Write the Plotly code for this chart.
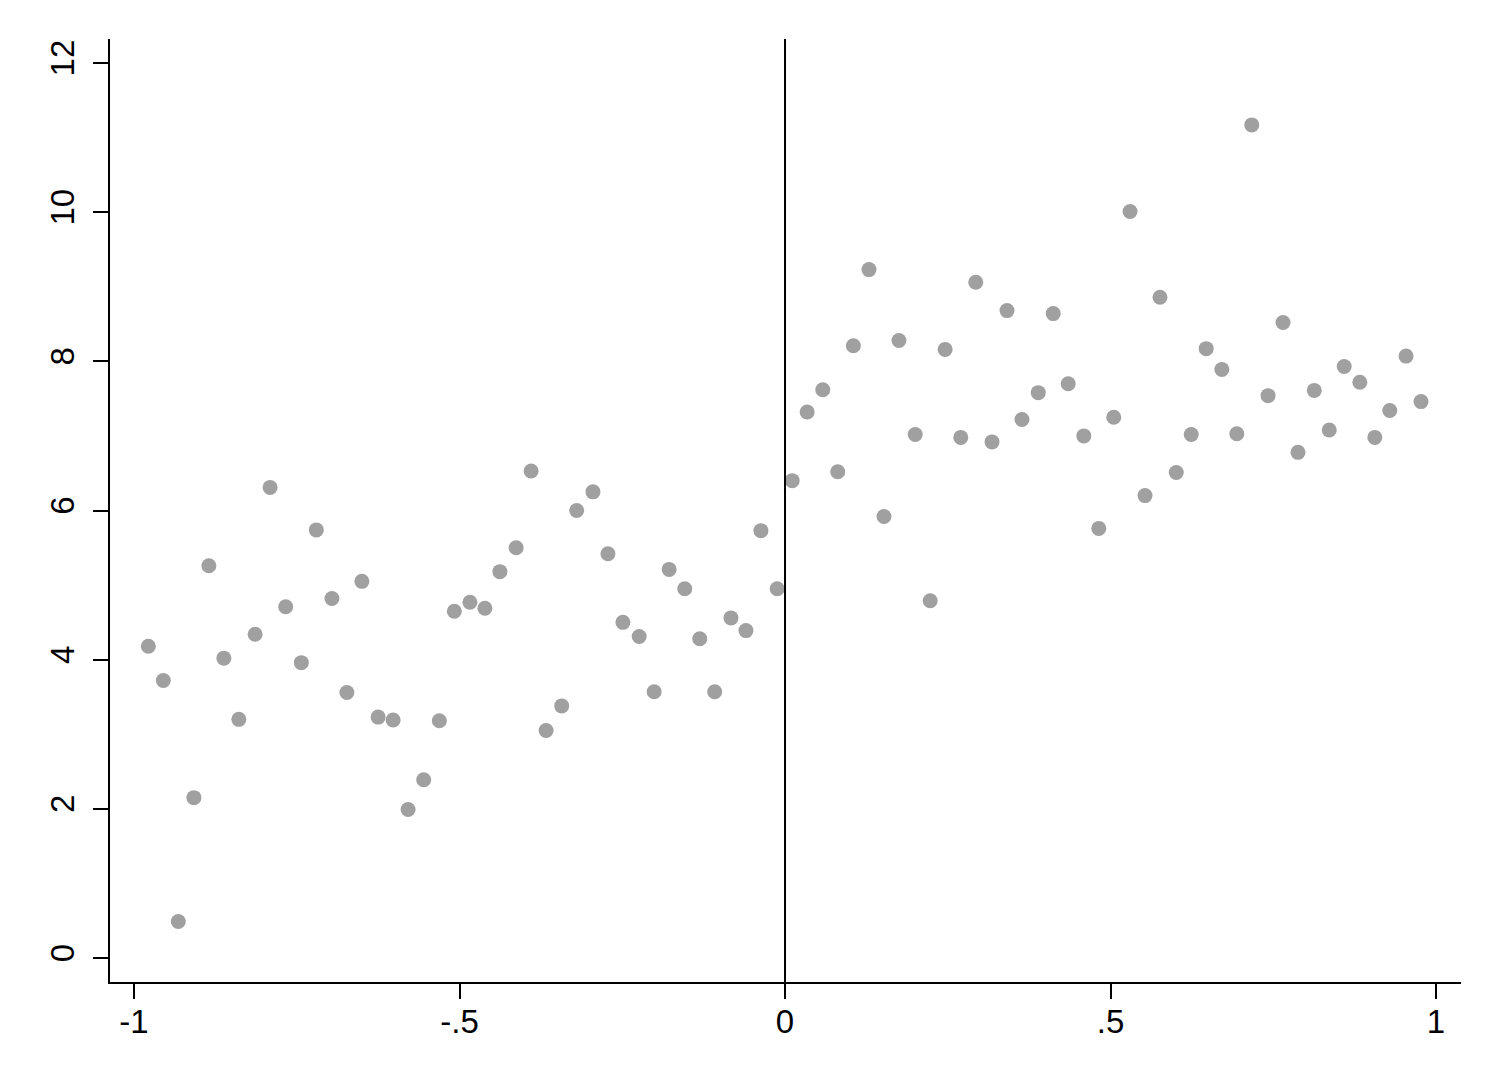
import plotly.graph_objects as go

# Bin midpoints (running variable) and bin means (outcome)
x_left = [-0.978, -0.955, -0.932, -0.908, -0.885, -0.862, -0.839, -0.814, -0.791,
          -0.767, -0.743, -0.720, -0.696, -0.673, -0.650, -0.625, -0.602, -0.579,
          -0.555, -0.531, -0.508, -0.484, -0.461, -0.438, -0.413, -0.390, -0.367,
          -0.343, -0.320, -0.295, -0.272, -0.249, -0.224, -0.201, -0.178, -0.154,
          -0.131, -0.108, -0.083, -0.060, -0.037, -0.012]
y_left = [4.18, 3.72, 0.49, 2.15, 5.26, 4.02, 3.20, 4.34, 6.31,
          4.71, 3.96, 5.74, 4.82, 3.56, 5.05, 3.23, 3.19, 1.99,
          2.39, 3.18, 4.65, 4.77, 4.69, 5.18, 5.50, 6.53, 3.05,
          3.38, 6.00, 6.25, 5.42, 4.50, 4.31, 3.57, 5.21, 4.95,
          4.28, 3.57, 4.56, 4.39, 5.73, 4.95]

x_right = [0.011, 0.034, 0.058, 0.081, 0.105, 0.129, 0.152, 0.175, 0.200,
           0.223, 0.246, 0.270, 0.293, 0.318, 0.341, 0.364, 0.389, 0.412,
           0.435, 0.459, 0.482, 0.505, 0.530, 0.553, 0.576, 0.601, 0.624,
           0.647, 0.671, 0.694, 0.717, 0.742, 0.765, 0.788, 0.813, 0.836,
           0.859, 0.883, 0.906, 0.929, 0.954, 0.977]
y_right = [6.40, 7.32, 7.62, 6.52, 8.21, 9.23, 5.92, 8.28, 7.02,
           4.79, 8.16, 6.98, 9.06, 6.92, 8.68, 7.22, 7.58, 8.64,
           7.70, 7.00, 5.76, 7.25, 10.01, 6.20, 8.86, 6.51, 7.02,
           8.17, 7.89, 7.03, 11.17, 7.54, 8.52, 6.78, 7.61, 7.08,
           7.93, 7.72, 6.98, 7.34, 8.07, 7.46]

x_ticks = [-1, -0.5, 0, 0.5, 1]
x_tick_labels = ["-1", "-.5", "0", ".5", "1"]
y_ticks = [0, 2, 4, 6, 8, 10, 12]
y_tick_labels = ["0", "2", "4", "6", "8", "10", "12"]
cutoff = 0

marker_style = dict(color="#a0a0a0", size=15, line=dict(width=0))

fig = go.Figure()
fig.add_trace(go.Scatter(x=x_left, y=y_left, mode="markers", marker=marker_style,
                         showlegend=False, hoverinfo="x+y"))
fig.add_trace(go.Scatter(x=x_right, y=y_right, mode="markers", marker=marker_style,
                         showlegend=False, hoverinfo="x+y"))

fig.add_shape(type="line", xref="x", yref="paper", x0=cutoff, x1=cutoff, y0=0, y1=1,
              line=dict(color="black", width=2))

font = dict(family="Liberation Sans, Arial, sans-serif", size=33, color="black")

fig.update_layout(
    width=1500, height=1092,
    margin=dict(l=102, r=47, t=31, b=118),
    paper_bgcolor="white", plot_bgcolor="white",
    font=font,
    xaxis=dict(
        range=[-1.0369, 1.0384], tickvals=x_ticks, ticktext=x_tick_labels,
        showgrid=False, zeroline=False, showline=True, linecolor="black", linewidth=2,
        ticks="outside", ticklen=15, tickwidth=2, tickcolor="black",
        tickfont=font, ticklabelstandoff=-6,
    ),
    yaxis=dict(
        range=[-0.322, 12.322], tickvals=y_ticks, ticktext=y_tick_labels,
        showgrid=False, zeroline=False, showline=True, linecolor="black", linewidth=2,
        ticks="outside", ticklen=15, tickwidth=2, tickcolor="black",
        tickangle=-90, tickfont=font, ticklabelstandoff=6,
    ),
)

fig.write_html("out.html")
